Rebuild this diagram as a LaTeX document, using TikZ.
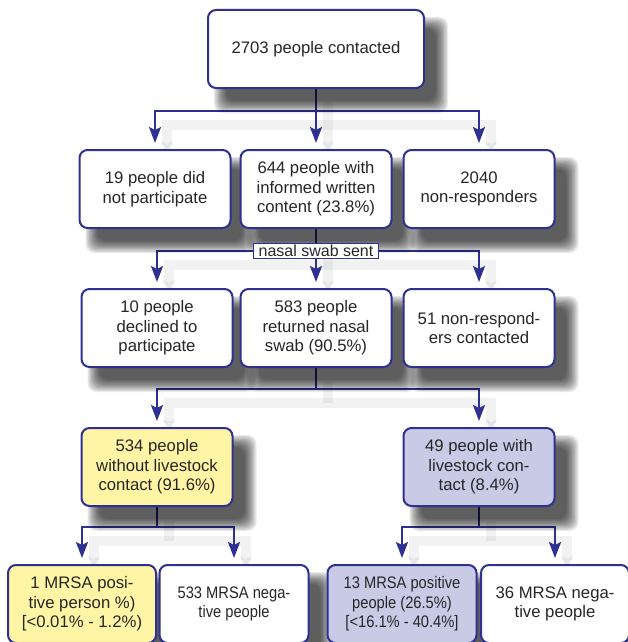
\documentclass[tikz,border=0pt]{standalone}
\usepackage{fontspec}
\setmainfont{Liberation Sans}
\newfontfamily\narrowfont[FakeStretch=0.88]{Liberation Sans}
\usetikzlibrary{arrows.meta,positioning}
\definecolor{frame}{HTML}{2E3192}
\definecolor{nolive}{HTML}{FFF5A5}
\definecolor{live}{HTML}{C9CAE6}
\pgfdeclarelayer{back}
\pgfdeclarelayer{shadows}
\pgfsetlayers{back,shadows,main}

\tikzset{
  box/.style={draw=frame, line width=2pt, rounded corners=8pt, fill=white,
    minimum width=151pt, minimum height=78pt, inner sep=0pt, align=center,
    text=black!85, font=\fontsize{16.7}{19.5}\selectfont},
  narrowbox/.style={box, font=\narrowfont\fontsize{16.7}{19.5}\selectfont},
  boxshade/.style={fill=black, opacity=.085, rounded corners=9pt},
  conn/.style={frame, line width=2.2pt,
    preaction={draw=black, opacity=.05, line width=10pt, transform canvas={shift={(12pt,-14pt)}}}},
  arr/.style={conn, shorten >=6pt, -{Stealth[length=16pt,width=12pt,inset=3pt]}},
}

\begin{document}
\begin{tikzpicture}[x=1pt,y=-1pt]
  \useasboundingbox (0,0) rectangle (627,642);

  % Start
  \node[box, minimum width=216pt] (start) at (316,49) {2703 people contacted};

  % Row 1
  \node[box] (didnot) at (155,189) {19 people did\\not participate};
  \node[box] (consent) at (316,189) {644 people with\\informed written\\content (23.8\%)};
  \node[box] (nonresp) at (479,189) {2040\\non-responders};

  % Row 2
  \node[box] (declined) at (157,328) {10 people\\declined to\\participate};
  \node[box] (returned) at (316,328) {583 people\\returned nasal\\swab (90.5\%)};
  \node[box] (contacted) at (479,328) {51 non-respond-\\ers contacted};

  % Row 3
  \node[box, fill=nolive] (nolivestock) at (157,467) {534 people\\without livestock\\contact (91.6\%)};
  \node[box, fill=live] (livestock) at (479,467) {49 people with\\livestock con-\\tact (8.4\%)};

  % Row 4
  \node[box, fill=nolive, minimum width=148pt] (posA) at (82,604) {1 MRSA posi-\\tive person \%)\\{}[<0.01\% - 1.2\%)};
  \node[narrowbox, minimum width=149pt] (negA) at (234,604) {533 MRSA nega-\\tive people};
  \node[narrowbox, fill=live, minimum width=149pt] (posB) at (402,604) {13 MRSA positive\\people (26.5\%)\\{}[<16.1\% - 40.4\%]};
  \node[box, minimum width=148pt] (negB) at (555,604) {36 MRSA nega-\\tive people};

  % Soft shadows behind the boxes
  \begin{pgfonlayer}{shadows}
    \foreach \n in {start,didnot,consent,nonresp,declined,returned,contacted,nolivestock,livestock,posA,negA,posB,negB}
      \foreach \e in {8,6.8,...,-4}
        \fill[boxshade] ([shift={({(15-\e)*1pt},{(-16+\e)*1pt})}]\n.north west)
          rectangle ([shift={({(15+\e)*1pt},{(-16-\e)*1pt})}]\n.south east);
  \end{pgfonlayer}

  % Connectors
  \begin{pgfonlayer}{back}
    \coordinate (split1) at ([yshift=-22pt]start.south);
    \draw[conn] (start.south) -- (split1);
    \draw[arr] (split1) -| (didnot);
    \draw[arr] (split1) -- (consent);
    \draw[arr] (split1) -| (nonresp);

    \coordinate (split2) at ([yshift=-22pt]consent.south);
    \draw[conn] (consent.south) -- (split2);
    \draw[arr] (split2) -| (declined);
    \draw[arr] (split2) -- (returned);
    \draw[arr] (split2) -| (contacted);

    \coordinate (split3) at ([yshift=-21pt]returned.south);
    \draw[conn] (returned.south) -- (split3);
    \draw[arr] (split3) -| (nolivestock);
    \draw[arr] (split3) -| (livestock);

    \coordinate (split4) at ([yshift=-20pt]nolivestock.south);
    \draw[conn] (nolivestock.south) -- (split4);
    \draw[arr] (split4) -| (posA);
    \draw[arr] (split4) -| (negA);

    \coordinate (split5) at ([yshift=-20pt]livestock.south);
    \draw[conn] (livestock.south) -- (split5);
    \draw[arr] (split5) -| (posB);
    \draw[arr] (split5) -| (negB);
  \end{pgfonlayer}

  % Label on the swab split
  \node[draw=frame, line width=0.8pt, fill=white, inner xsep=5pt, inner ysep=1.5pt,
    text=black!85, font=\fontsize{16}{18}\selectfont] (swab) at (split2) {nasal swab sent};
\end{tikzpicture}
\end{document}
